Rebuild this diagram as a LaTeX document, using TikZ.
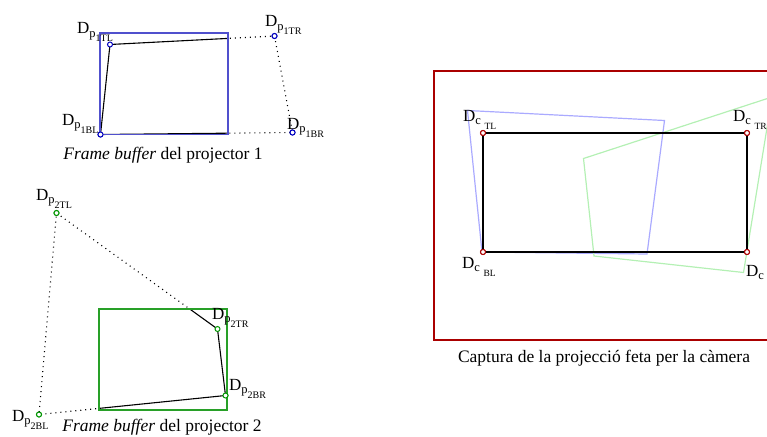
\documentclass[tikz,border=0pt]{standalone}
\usepackage{fontspec}
\setmainfont{Liberation Serif}
\newcommand{\Dplab}[1]{D\raisebox{-3.5pt}{\fontsize{12.5}{12.5}\selectfont p\raisebox{-4.5pt}{\fontsize{10}{10}\selectfont #1}}}
\newcommand{\Dclab}[1]{D\raisebox{-3pt}{\fontsize{12.5}{12.5}\selectfont c\hspace{3.5pt}\raisebox{-5pt}{\fontsize{9.5}{9.5}\selectfont #1}}}
\definecolor{pblue}{RGB}{80,80,205}
\definecolor{ptblue}{RGB}{0,0,190}
\definecolor{pgreen}{RGB}{40,160,40}
\definecolor{ptgreen}{RGB}{0,150,0}
\definecolor{lblue}{RGB}{170,170,255}
\definecolor{lgreen}{RGB}{180,240,180}
\definecolor{dred}{RGB}{170,0,0}
\begin{document}
\begin{tikzpicture}[x=1pt,y=-1pt,
  lbl/.style={inner sep=0pt,anchor=base west,font=\fontsize{17}{17}\selectfont},
  captext/.style={inner sep=0pt,anchor=base,font=\fontsize{17.5}{17.5}\selectfont},
  vtx/.style={circle,draw,fill=white,line width=1pt,inner sep=0pt,minimum size=5pt},
  dotline/.style={black,line width=1.1pt,dash pattern=on 1pt off 4pt},
  solidline/.style={black,line width=1.1pt},
  framebox/.style={line width=1.2pt}]
\clip (0,0) rectangle (767,436);
% ---------- projector 1 ----------
\coordinate (r1a) at (100,33);
\coordinate (r1b) at (228,134.5);
\node[vtx,draw=ptblue] (p1TL) at (110,44.5) {};
\node[vtx,draw=ptblue] (p1TR) at (274.5,36) {};
\node[vtx,draw=ptblue] (p1BR) at (292.5,132.5) {};
\node[vtx,draw=ptblue] (p1BL) at (100.5,134.5) {};
\draw[dotline] (p1TL.center) -- (p1TR.center) -- (p1BR.center) -- (p1BL.center);
\begin{scope}
\clip (r1a) rectangle (r1b);
\fill[white] (r1a) rectangle (r1b);
\draw[solidline] (p1TL.center) -- (p1TR.center) -- (p1BR.center) -- (p1BL.center) -- cycle;
\end{scope}
\draw[framebox,pblue] (r1a) rectangle (r1b);
\foreach \n in {p1TL,p1TR,p1BR,p1BL} \node[vtx,draw=ptblue] at (\n) {};
\node[lbl] (l1TL) at (77,34) {\Dplab{1TL}};
\node[lbl] (l1TR) at (265,27) {\Dplab{1TR}};
\node[lbl] (l1BL) at (62,125) {\Dplab{1BL}};
\node[lbl] (l1BR) at (287,129) {\Dplab{1BR}};
\node[captext] (c1) at (163,159) {\textit{Frame buffer} del projector 1};
% ---------- projector 2 ----------
\coordinate (r2a) at (99,309);
\coordinate (r2b) at (227,410);
\node[vtx,draw=ptgreen] (p2TL) at (56.5,213) {};
\node[vtx,draw=ptgreen] (p2TR) at (217.5,329) {};
\node[vtx,draw=ptgreen] (p2BR) at (225.5,395.5) {};
\node[vtx,draw=ptgreen] (p2BL) at (39,414.5) {};
\draw[dotline] (p2BR.center) -- (p2BL.center) -- (p2TL.center) -- (p2TR.center);
\begin{scope}
\clip (r2a) rectangle (r2b);
\fill[white] (r2a) rectangle (r2b);
\draw[solidline] (p2TL.center) -- (p2TR.center) -- (p2BR.center) -- (p2BL.center) -- cycle;
\end{scope}
\draw[framebox,pgreen] (r2a) rectangle (r2b);
\foreach \n in {p2TL,p2TR,p2BR,p2BL} \node[vtx,draw=ptgreen] at (\n) {};
\node[lbl] (l2TL) at (36,200) {\Dplab{2TL}};
\node[lbl] (l2TR) at (212,319) {\Dplab{2TR}};
\node[lbl] (l2BR) at (229,390) {\Dplab{2BR}};
\node[lbl] (l2BL) at (12,421) {\Dplab{2BL}};
\node[captext] (c2) at (162,431) {\textit{Frame buffer} del projector 2};
% ---------- camera capture ----------
\draw[dred,line width=2pt] (434,71) rectangle (800,340);
\draw[lblue,line width=1.2pt] (467.5,110.5) -- (664.5,120.5) -- (647,254) -- (482,252) -- cycle;
\draw[lgreen,line width=1.2pt] (583.5,158.5) -- (772,97) -- (743.5,272.5) -- (594,256) -- cycle;
\node[vtx,draw=dred] (cTL) at (483,133) {};
\node[vtx,draw=dred] (cTR) at (747,133) {};
\node[vtx,draw=dred] (cBR) at (747,252) {};
\node[vtx,draw=dred] (cBL) at (483,252) {};
\draw[solidline] (cTL.center) -- (cTR.center) -- (cBR.center) -- (cBL.center) -- cycle;
\foreach \n in {cTL,cTR,cBR,cBL} \node[vtx,draw=dred] at (\n) {};
\node[lbl] (lcTL) at (463,121) {\Dclab{TL}};
\node[lbl] (lcTR) at (733,121) {\Dclab{TR}};
\node[lbl] (lcBL) at (462,268) {\Dclab{BL}};
\node[lbl] (lcBR) at (746,276) {\Dclab{BR}};
\node[captext] (c3) at (604,362) {Captura de la projecció feta per la càmera};
\end{tikzpicture}
\end{document}
